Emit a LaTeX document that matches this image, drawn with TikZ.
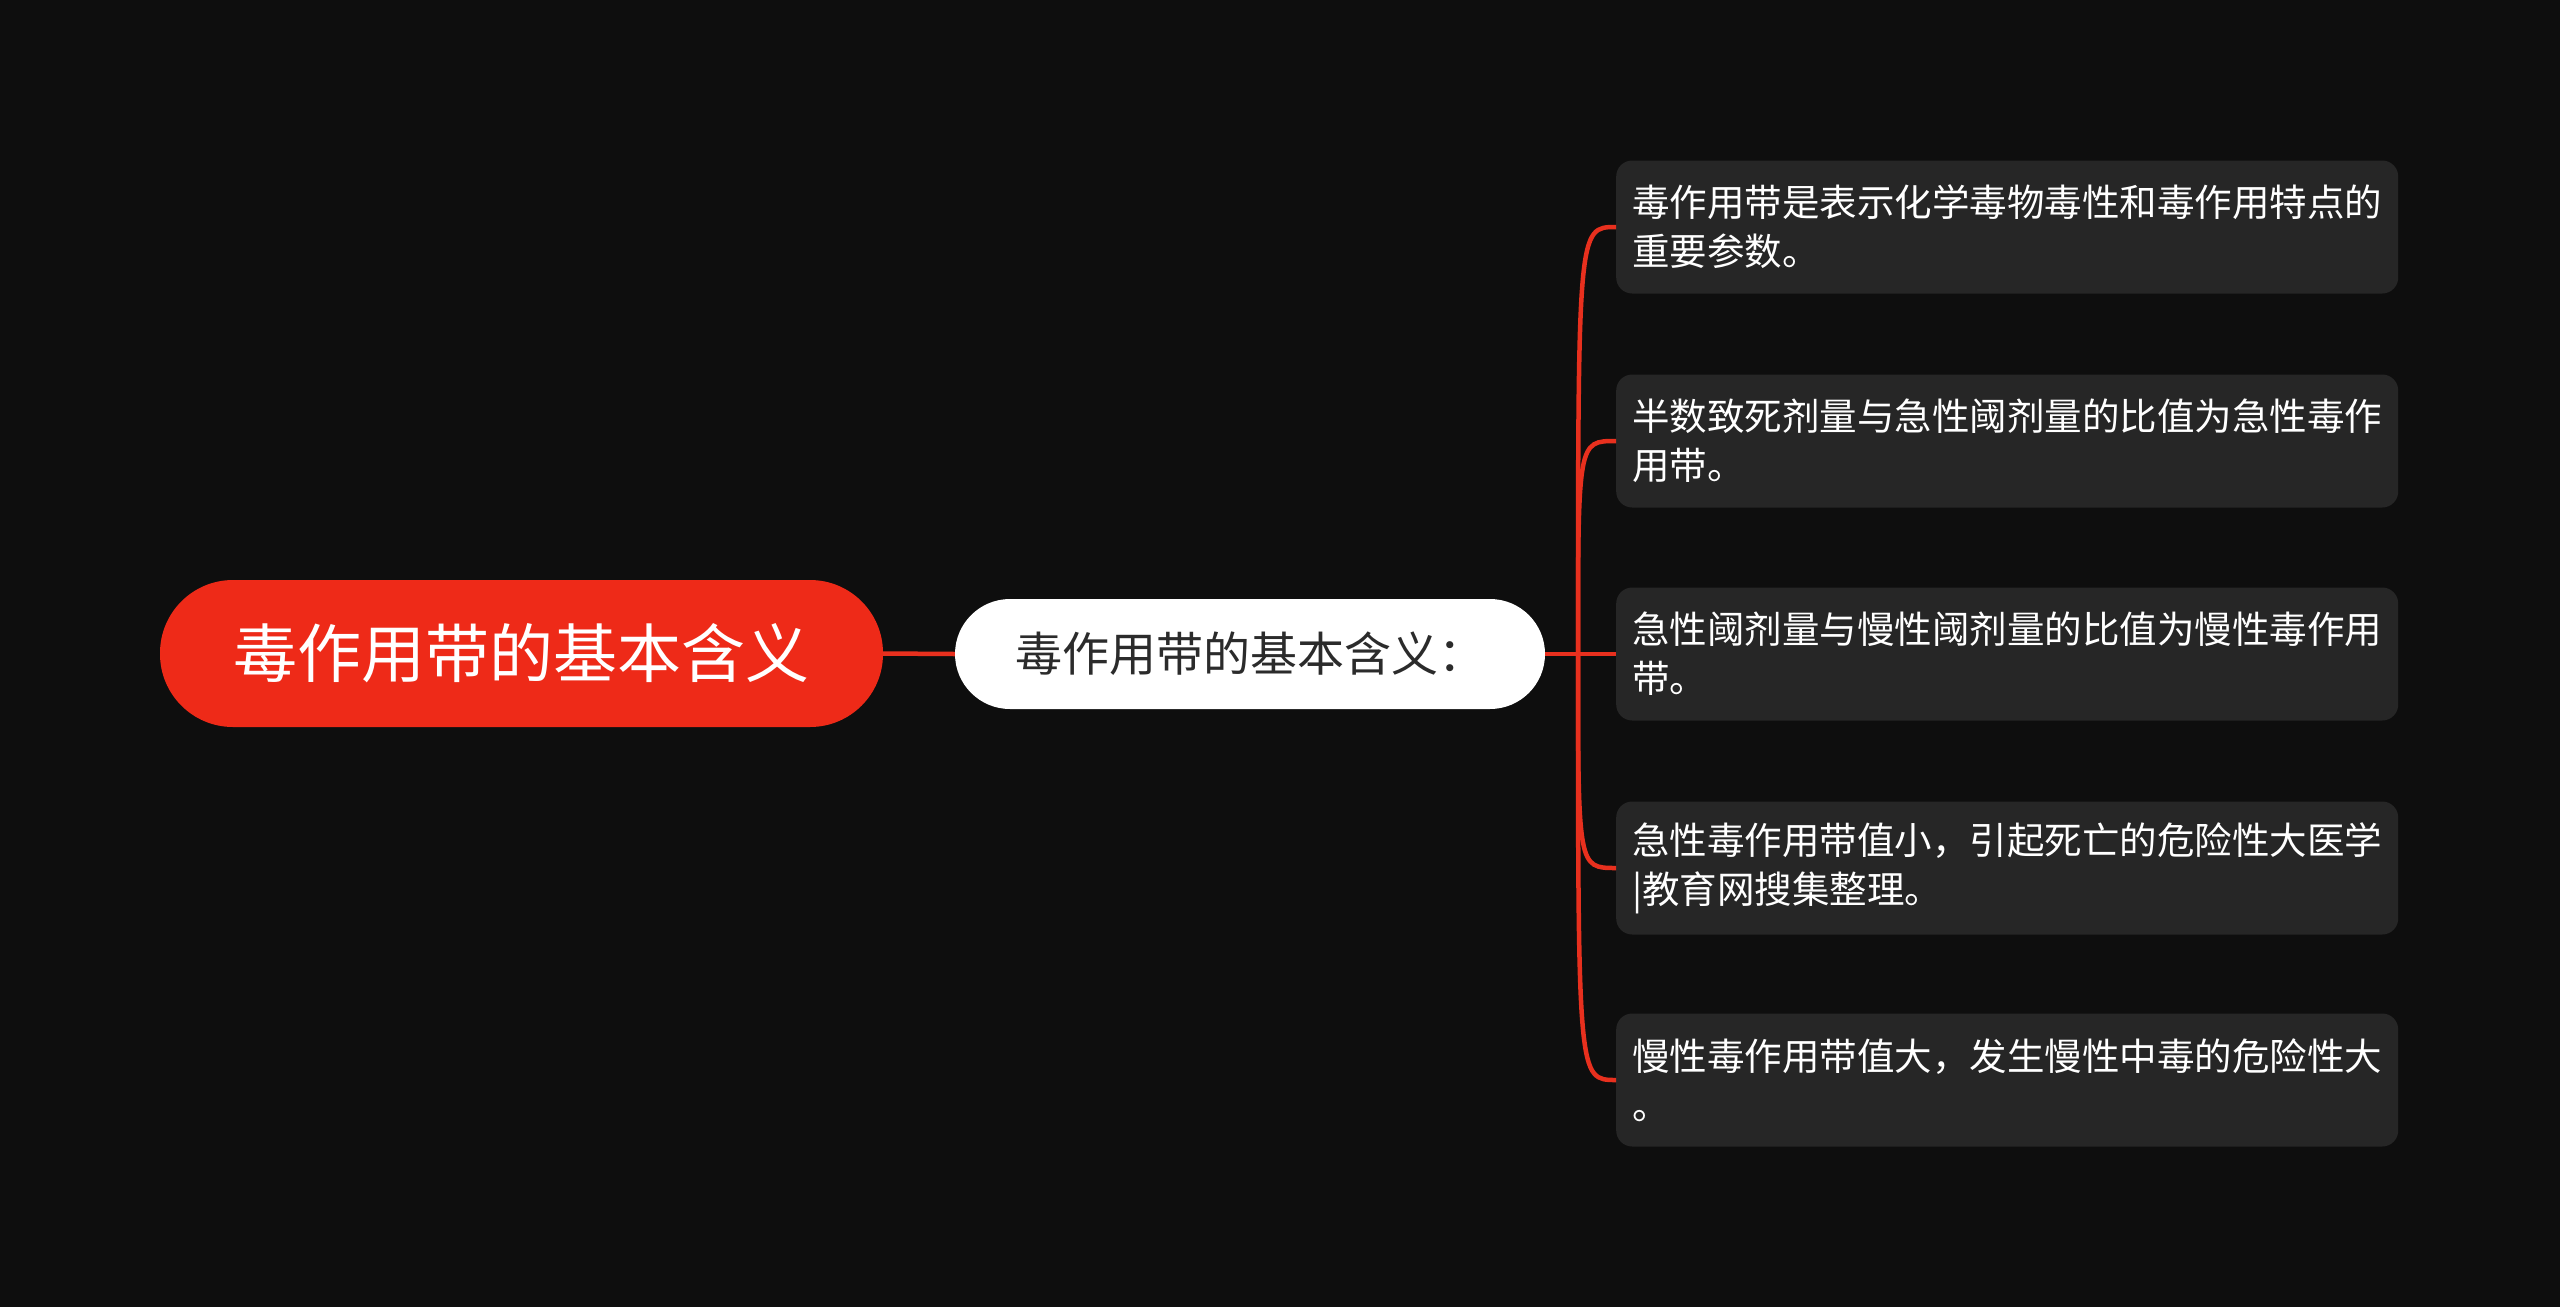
\documentclass[tikz,border=0pt]{standalone}
\usepackage{fontspec}
\setmainfont{Noto Sans CJK SC}
\definecolor{bg}{HTML}{0E0E0E}
\definecolor{rootred}{HTML}{EE2A18}
\definecolor{leafbg}{HTML}{262626}
\definecolor{linered}{HTML}{E8301E}
\definecolor{childtext}{HTML}{2B2B2B}
\begin{document}
\begin{tikzpicture}[x=1pt,y=-1pt,
  rootbox/.style={fill=rootred, rounded corners=73pt, minimum width=723pt, minimum height=147pt,
    text=white, font=\fontsize{64}{72}\selectfont, inner sep=0pt},
  childbox/.style={fill=white, rounded corners=55pt, minimum width=590pt, minimum height=110pt,
    text=childtext, font=\fontsize{47}{55}\selectfont, inner sep=0pt},
  leafbox/.style={fill=leafbg, rounded corners=16pt, text width=750pt, align=left,
    inner xsep=16pt, inner ysep=0pt, minimum height=133pt, anchor=west,
    text=white, font=\fontsize{37.5}{49}\selectfont},
  conn/.style={draw=linered, line width=4.5pt}
]
\fill[bg] (0,0) rectangle (2560,1307);
\useasboundingbox (0,0) rectangle (2560,1307);

\node[rootbox] (root) at (521.5,653.5) {毒作用带的基本含义};
\node[childbox] (child) at (1250,654) {毒作用带的基本含义：};

\node[leafbox] (l1) at (1616,227) {毒作用带是表示化学毒物毒性和毒作用特点的\\重要参数。};
\node[leafbox] (l2) at (1616,441) {半数致死剂量与急性阈剂量的比值为急性毒作\\用带。};
\node[leafbox] (l3) at (1616,654) {急性阈剂量与慢性阈剂量的比值为慢性毒作用\\带。};
\node[leafbox] (l4) at (1616,868) {急性毒作用带值小，引起死亡的危险性大医学\\|教育网搜集整理。};
\node[leafbox] (l5) at (1616,1080) {慢性毒作用带值大，发生慢性中毒的危险性大\\。};

\coordinate (fork) at (1578,654);

\draw[conn] (root.east) -- (child.west);
\draw[conn] (child.east) -- (fork);
\draw[conn] (fork) .. controls (fork |- l1.west) and (fork |- l1.west) .. (l1.west);
\draw[conn] (fork) .. controls (fork |- l2.west) and (fork |- l2.west) .. (l2.west);
\draw[conn] (fork) -- (l3.west);
\draw[conn] (fork) .. controls (fork |- l4.west) and (fork |- l4.west) .. (l4.west);
\draw[conn] (fork) .. controls (fork |- l5.west) and (fork |- l5.west) .. (l5.west);
\end{tikzpicture}
\end{document}
